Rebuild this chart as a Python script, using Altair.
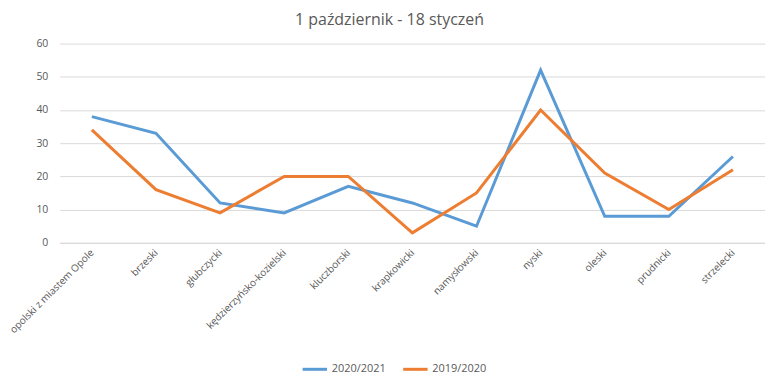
import altair as alt
import pandas as pd

categories = ["opolski z miastem Opole", "brzeski", "głubczycki", "kędzierzyńsko-kozielski",
              "kluczborski", "krapkowicki", "namysłowski", "nyski", "oleski", "prudnicki", "strzelecki"]
series_names = ["2020/2021", "2019/2020"]
values_2020_2021 = [38, 33, 12, 9, 17, 12, 5, 52, 8, 8, 26]
values_2019_2020 = [34, 16, 9, 20, 20, 3, 15, 40, 21, 10, 22]
colors = ["#5B9BD5", "#ED7D31"]

rows = []
for name, vals in zip(series_names, [values_2020_2021, values_2019_2020]):
    for i, (c, v) in enumerate(zip(categories, vals)):
        rows.append({"powiat": c, "seria": name, "wartosc": v, "ord": i})
df = pd.DataFrame(rows)

font = "Open Sans"
txt = "#595959"

chart = alt.Chart(df).mark_line(strokeWidth=3).encode(
    x=alt.X("powiat:N", sort=categories, scale=alt.Scale(type="point", padding=0.5),
            axis=alt.Axis(title=None, labelAngle=-45, labelAlign="right", labelBaseline="middle",
                          labelFont=font, labelFontSize=10, labelColor=txt, ticks=False,
                          domain=True, domainColor="#D9D9D9", labelPadding=8, grid=False)),
    y=alt.Y("wartosc:Q", scale=alt.Scale(domain=[0, 60]),
            axis=alt.Axis(title=None, values=[0, 10, 20, 30, 40, 50, 60], labelFont=font,
                          labelFontSize=10.5, labelColor=txt, ticks=False, domain=False,
                          gridColor="#D9D9D9", labelPadding=12)),
    color=alt.Color("seria:N", sort=series_names,
                    scale=alt.Scale(domain=series_names, range=colors),
                    legend=alt.Legend(title=None, orient="none", direction="horizontal",
                                      legendX=242, legendY=313, symbolType="stroke",
                                      symbolStrokeWidth=3, symbolSize=600,
                                      labelFont=font, labelFontSize=11, labelColor=txt,
                                      columnPadding=10, labelOffset=3)),
    order="ord:Q",
).properties(
    width=708, height=200,
    title=alt.TitleParams("1 październik - 18 styczeń", font=font, fontSize=16,
                          fontWeight="normal", color=txt, offset=11, dx=-23),
    autosize=alt.AutoSizeParams(type="none"),
    padding={"left": 52, "top": 35, "right": 0, "bottom": 134},
).configure_view(stroke=None)

chart.save("out.html", embed_options={"renderer": "svg", "actions": False})
